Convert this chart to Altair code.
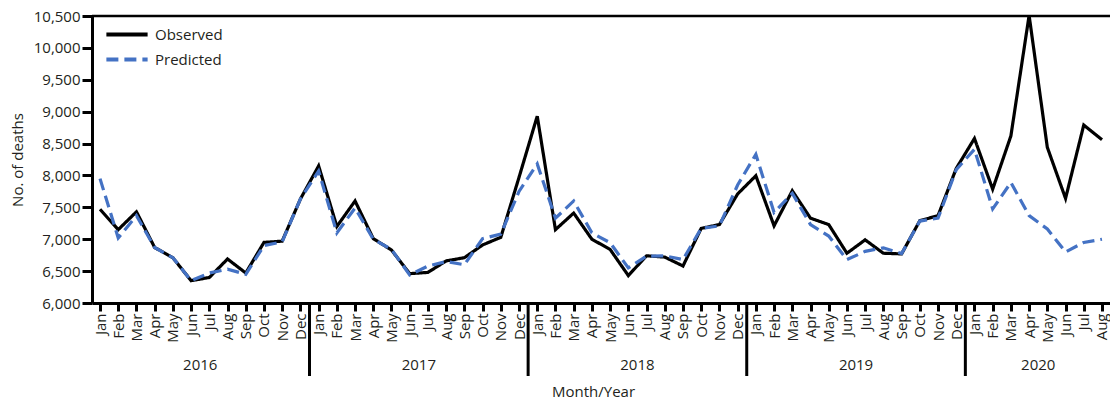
import altair as alt
import pandas as pd

MONTHS = ["Jan", "Feb", "Mar", "Apr", "May", "Jun", "Jul", "Aug", "Sep", "Oct", "Nov", "Dec"]
YEARS = ["2016", "2017", "2018", "2019", "2020"]
SERIES = ["Observed", "Predicted"]

OBSERVED = [
    7470, 7150, 7430, 6870, 6710, 6350, 6400, 6690, 6470, 6950, 6970, 7630,
    8150, 7200, 7600, 7010, 6830, 6460, 6480, 6660, 6710, 6910, 7030, 7970,
    8930, 7150, 7410, 7000, 6840, 6430, 6740, 6720, 6580, 7170, 7230, 7710,
    7995, 7210, 7760, 7330, 7230, 6780, 6990, 6780, 6770, 7290, 7370, 8110,
    8580, 7785, 8620, 10510, 8440, 7640, 8790, 8560,
]
PREDICTED = [
    7950, 7020, 7370, 6870, 6710, 6350, 6470, 6530, 6450, 6900, 6960, 7630,
    8070, 7100, 7490, 7000, 6840, 6440, 6580, 6650, 6600, 7010, 7080, 7750,
    8180, 7330, 7600, 7100, 6945, 6550, 6735, 6740, 6680, 7170, 7210, 7850,
    8330, 7420, 7720, 7230, 7050, 6680, 6810, 6865, 6775, 7285, 7330, 8090,
    8410, 7475, 7890, 7370, 7160, 6800, 6950, 7000,
]

FONT = "Open Sans"
TXT = "#231f20"
W, H = 1018, 287
n = len(OBSERVED)

rows = []
for i in range(n):
    rows.append({"idx": i, "series": SERIES[0], "deaths": OBSERVED[i]})
    rows.append({"idx": i, "series": SERIES[1], "deaths": PREDICTED[i]})
df = pd.DataFrame(rows)

year_rows = []
for k, y in enumerate(YEARS):
    start = 12 * k
    end = min(12 * k + 11, n - 1)
    year_rows.append({"year": y, "mid": (start + end) / 2})
year_df = pd.DataFrame(year_rows)
bound_df = pd.DataFrame({"pos": [12 * k - 0.5 for k in range(1, len(YEARS))]})

month_expr = "[" + ",".join("'%s'" % m for m in MONTHS) + "][datum.value % 12]"

xscale = alt.Scale(domain=[-0.44, n - 0.56], nice=False, zero=False)

x_axis = alt.Axis(
    values=list(range(n)),
    labelExpr=month_expr,
    labelAngle=-90,
    labelFontSize=15,
    labelPadding=2,
    labelFlush=False,
    labelOverlap=False,
    labelBound=False,
    tickSize=8,
    tickWidth=3,
    domainWidth=3,
    title="Month/Year",
    titleY=93,
    titleX=501,
    titleAlign="center",
    titleBaseline="alphabetic",
    titleFontSize=15,
    titleFontWeight="normal",
    grid=False,
)

legend_cfg = dict(
    title=None,
    orient="none",
    legendX=12,
    legendY=6,
    symbolType="stroke",
    symbolSize=1700,
    symbolStrokeWidth=4,
    labelFontSize=15,
    labelOffset=5,
    clipHeight=25,
    rowPadding=0,
)

lines = alt.Chart(df).mark_line(strokeWidth=3.2).encode(
    x=alt.X("idx:Q", scale=xscale, axis=x_axis),
    y=alt.Y(
        "deaths:Q",
        scale=alt.Scale(domain=[6000, 10500], nice=False, zero=False),
        axis=alt.Axis(
            values=list(range(6000, 10501, 500)),
            format=",d",
            labelFontSize=15,
            labelPadding=2,
            labelOverlap=False,
            tickSize=10,
            tickWidth=3,
            domainWidth=3,
            title="No. of deaths",
            titleFontSize=15,
            titleFontWeight="normal",
            titlePadding=8,
            grid=False,
        ),
    ),
    color=alt.Color(
        "series:N",
        scale=alt.Scale(domain=SERIES, range=["#000000", "#4472c4"]),
        legend=alt.Legend(**legend_cfg),
    ),
    strokeDash=alt.StrokeDash(
        "series:N",
        scale=alt.Scale(domain=SERIES, range=[[1, 0], [12, 6]]),
        legend=alt.Legend(**legend_cfg),
    ),
)

top_rule = alt.Chart(pd.DataFrame({"k": [0]})).mark_rule(color="black", strokeWidth=2.5).encode(
    x=alt.value(0), x2=alt.value(W), y=alt.value(0)
)

year_text = alt.Chart(year_df).mark_text(fontSize=15, font=FONT, color=TXT).encode(
    x=alt.X("mid:Q", scale=xscale, axis=x_axis),
    y=alt.value(H + 62),
    text="year:N",
)

separators = alt.Chart(bound_df).mark_rule(color="black", strokeWidth=3).encode(
    x=alt.X("pos:Q", scale=xscale, axis=x_axis),
    y=alt.value(H),
    y2=alt.value(H + 73),
)

chart = (
    alt.layer(lines, separators, year_text, top_rule)
    .properties(
        width=W,
        height=H,
        autosize=alt.AutoSizeParams(type="none"),
        padding={"left": 84, "top": 8, "right": 0, "bottom": 100},
    )
    .configure_view(stroke=None)
    .configure_axis(
        labelFont=FONT, titleFont=FONT, labelColor=TXT, titleColor=TXT,
        domainColor="black", tickColor="black",
    )
    .configure_legend(labelFont=FONT, labelColor=TXT)
)

chart.save("out.html", embed_options={"renderer": "svg", "actions": False})
